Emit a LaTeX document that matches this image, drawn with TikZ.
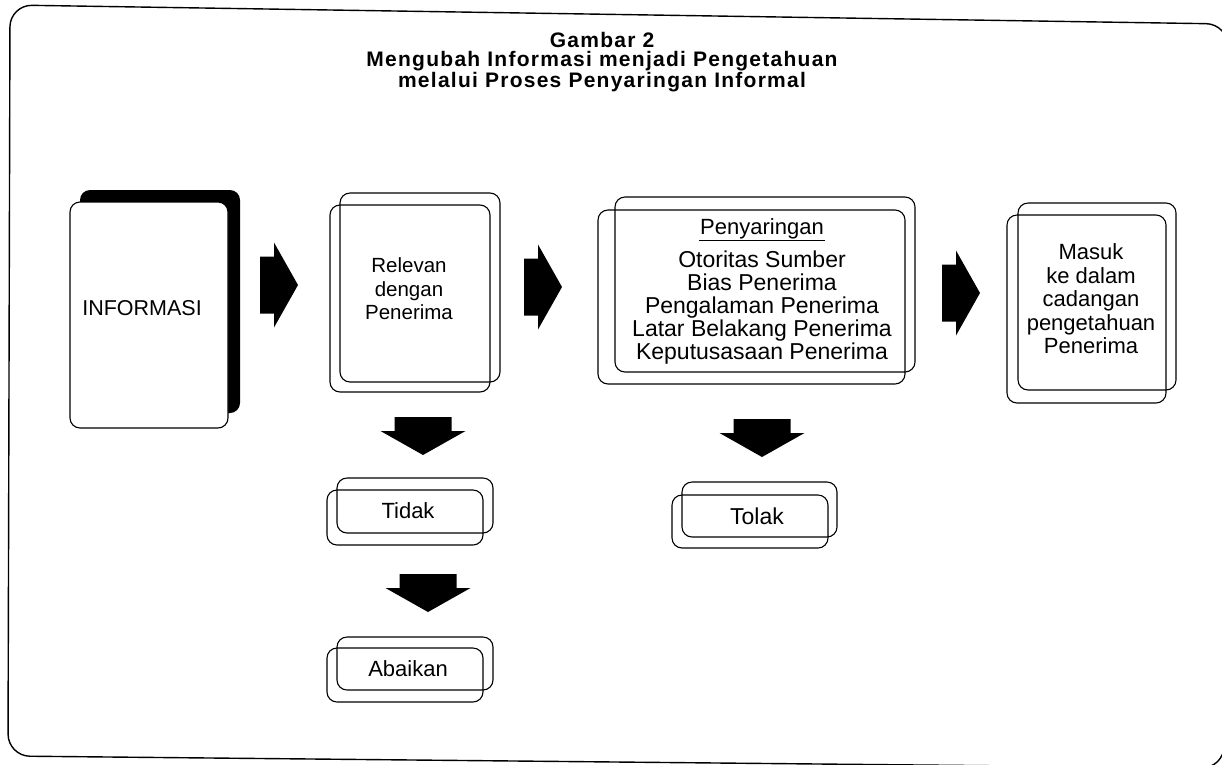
\documentclass[tikz,border=0pt]{standalone}
\usepackage{fontspec}
\setmainfont{Liberation Sans}
\newfontfamily\titlefont[LetterSpace=6]{Liberation Sans}
\begin{document}
\begin{tikzpicture}[x=1pt,y=-1pt,
  box/.style={draw, line width=1.1pt, rounded corners=10pt, inner sep=0pt},
  txt/.style={font=\fontsize{22}{23.5}\selectfont, align=center, inner sep=0pt},
  blockarrow/.pic={\fill (0,0) -- (-24,-42.5) -- (-24,-28.5) -- (-38,-28.5)
      -- (-38,28.5) -- (-24,28.5) -- (-24,42.5) -- cycle;}]
\useasboundingbox (0,0) rectangle (1222,764);

% outer frame
\draw[line width=1.4pt, rounded corners=22pt]
  (9,380) -- (10,5) -- (1228,24) -- (1224,768) -- (8,756) -- cycle;

% title
\node[font=\titlefont\bfseries\fontsize{21}{19}\selectfont, align=center] (title)
  at (602,62) {Gambar 2\\Mengubah Informasi menjadi Pengetahuan\\melalui Proses Penyaringan Informal};

% INFORMASI card with dark backing
\node[fill=black, rounded corners=10pt, minimum width=160pt, minimum height=223pt] (infoback) at (160,301.5) {};
\node[box, fill=white, minimum width=158pt, minimum height=226pt] (info) at (149,315) {};
\node[txt, font=\fontsize{21.5}{22}\selectfont] (infotext) at (142,308) {INFORMASI};

% relevance check
\node[box, minimum width=160pt, minimum height=189pt] (relA) at (420,287.5) {};
\node[box, minimum width=160pt, minimum height=187pt] (relB) at (410,298.5) {};
\node[txt, font=\fontsize{20.5}{23.5}\selectfont] (reltext) at (409,289) {Relevan\\dengan\\Penerima};

% filtering
\node[box, minimum width=300pt, minimum height=175pt] (filA) at (765,284.5) {};
\node[box, minimum width=307pt, minimum height=174pt] (filB) at (751.5,297) {};
\node[txt, inner sep=1pt] (filhead) at (762,229) {Penyaringan};
\draw[line width=1pt] (filhead.south west) -- (filhead.south east);
\node[txt, font=\fontsize{23}{23}\selectfont] (filtext) at (762,307.5) {Otoritas Sumber\\Bias Penerima\\Pengalaman Penerima\\Latar Belakang Penerima\\Keputusasaan Penerima};

% knowledge store
\node[box, minimum width=158pt, minimum height=187pt] (storeA) at (1097,296.5) {};
\node[box, minimum width=159pt, minimum height=188pt] (storeB) at (1086.5,309) {};
\node[txt] (storetext) at (1091,299) {Masuk\\ke dalam\\cadangan\\pengetahuan\\Penerima};

% outcomes
\node[box, minimum width=156pt, minimum height=55pt] (noA) at (415,505.5) {};
\node[box, minimum width=156pt, minimum height=55pt] (noB) at (405,517.5) {};
\node[txt] (notext) at (408,511) {Tidak};

\node[box, minimum width=155pt, minimum height=55pt] (rejA) at (759.5,509.5) {};
\node[box, minimum width=156pt, minimum height=53pt] (rejB) at (750,521.5) {};
\node[txt, font=\fontsize{23}{23.5}\selectfont] (rejtext) at (757,516) {Tolak};

\node[box, minimum width=156pt, minimum height=53pt] (ignA) at (415,663.5) {};
\node[box, minimum width=156pt, minimum height=54pt] (ignB) at (405,675) {};
\node[txt] (igntext) at (408,669) {Abaikan};

% block arrows
\pic at (298,285) {blockarrow};
\pic at (562,287) {blockarrow};
\pic at (980,293) {blockarrow};
\pic[rotate=-90] at (423,455) {blockarrow};
\pic[rotate=-90] at (428,612) {blockarrow};
\pic[rotate=-90] at (762,457) {blockarrow};
\end{tikzpicture}
\end{document}
